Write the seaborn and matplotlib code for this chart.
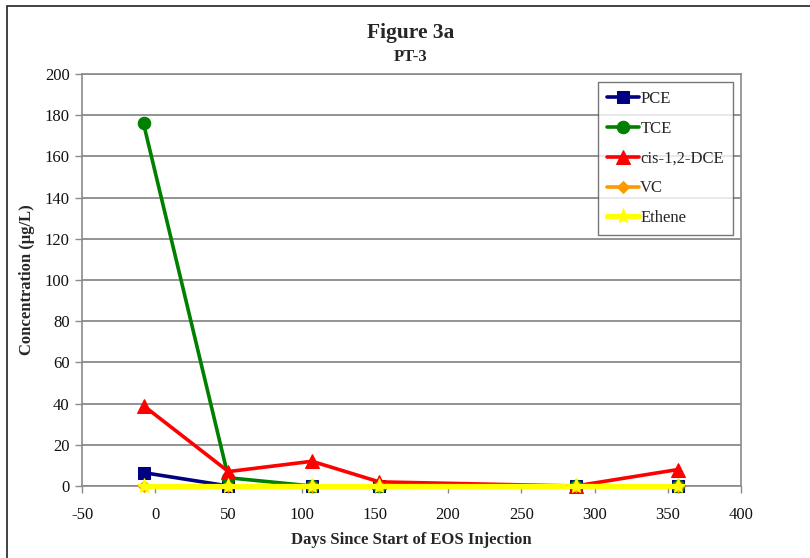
import matplotlib
matplotlib.use("Agg")
import matplotlib.pyplot as plt
import seaborn as sns
import pandas as pd
from matplotlib.patches import Rectangle

# Sampling days relative to the start of EOS injection
days = [-8, 50, 107, 153, 287, 357]

pce = [6.5, 0, 0, 0, 0, 0]
tce = [176, 4, 0, 0, 0, 0]
cis_dce = [39, 7, 12, 2, 0, 8]
vc = [0, 0, 0, 0, 0, 0]
ethene = [0, 0, 0, 0, 0, 0]

series_names = ["PCE", "TCE", "cis-1,2-DCE", "VC", "Ethene"]
series_values = [pce, tce, cis_dce, vc, ethene]

x_ticks = [-50, 0, 50, 100, 150, 200, 250, 300, 350, 400]
y_ticks = [0, 20, 40, 60, 80, 100, 120, 140, 160, 180, 200]

styles = {
    "PCE": dict(color="#000080", marker="s", ms=8.5, lw=2.6),
    "TCE": dict(color="#008000", marker="o", ms=9, lw=2.6),
    "cis-1,2-DCE": dict(color="#FF0000", marker="^", ms=10, lw=2.6),
    "VC": dict(color="#FF9900", marker="D", ms=6.5, lw=2.6),
    "Ethene": dict(color="#FFFF00", marker="*", ms=11, lw=3.8),
}

sns.set_theme(style="white")
plt.rcParams["font.family"] = ["Liberation Serif", "DejaVu Serif"]
plt.rcParams["axes.unicode_minus"] = False

fig = plt.figure(figsize=(8.10, 5.58), dpi=100)
ax = fig.add_axes([82 / 810, 1 - 486 / 558, (741 - 82) / 810, (486 - 74) / 558])

frames = []
for name, vals in zip(series_names, series_values):
    frames.append(pd.DataFrame({"day": days, "conc": vals, "series": name}))
df = pd.concat(frames, ignore_index=True)

for name in series_names:
    st = styles[name]
    sub = df[df["series"] == name]
    sns.lineplot(data=sub, x="day", y="conc", ax=ax, color=st["color"],
                 marker=st["marker"], markersize=st["ms"], linewidth=st["lw"],
                 markeredgecolor=st["color"], label=name, clip_on=False,
                 zorder=3)

ax.set_xlim(-50, 400)
ax.set_ylim(0, 200)
ax.set_xticks(x_ticks)
ax.set_yticks(y_ticks)
ax.yaxis.grid(True, color="#808080", linewidth=1.2)
ax.xaxis.grid(False)
ax.set_axisbelow(True)
for side in ["left", "bottom", "right", "top"]:
    ax.spines[side].set_color("#8a8a8a")
    ax.spines[side].set_linewidth(1.2)
ax.tick_params(axis="both", direction="out", length=5, width=1, color="#8a8a8a",
               labelsize=12, labelcolor="#111111", bottom=True, left=True)
ax.tick_params(axis="x", pad=10)
ax.tick_params(axis="y", pad=4)

ax.set_xlabel("Days Since Start of EOS Injection", fontsize=12, fontweight="bold")
ax.set_ylabel("Concentration (\u00b5g/L)", fontsize=12, fontweight="bold")
ax.xaxis.set_label_coords(0.5, (486 - 532) / 412)
ax.yaxis.set_label_coords((35 - 82) / 659, 0.5)

leg = ax.legend(loc="upper right", bbox_to_anchor=(0.988, 0.981), frameon=True,
                fancybox=False, edgecolor="#555555", fontsize=12,
                handlelength=1.9, handletextpad=0.1, labelspacing=0.83,
                borderpad=0.55, borderaxespad=0)
leg.get_frame().set_linewidth(1.0)

fig.text(411 / 810, 1 - 33 / 558, "Figure 3a", ha="center", va="center",
         fontsize=15.5, fontweight="bold")
fig.text(411 / 810, 1 - 57 / 558, "PT-3", ha="center", va="center",
         fontsize=12, fontweight="bold")

# chart-area border
fig.patches.append(Rectangle((7 / 810, -0.1), 1.2, 1 - 6 / 558 + 0.1,
                             transform=fig.transFigure, fill=False,
                             edgecolor="#222222", linewidth=1.2))

fig.savefig("out.png", dpi=100)
